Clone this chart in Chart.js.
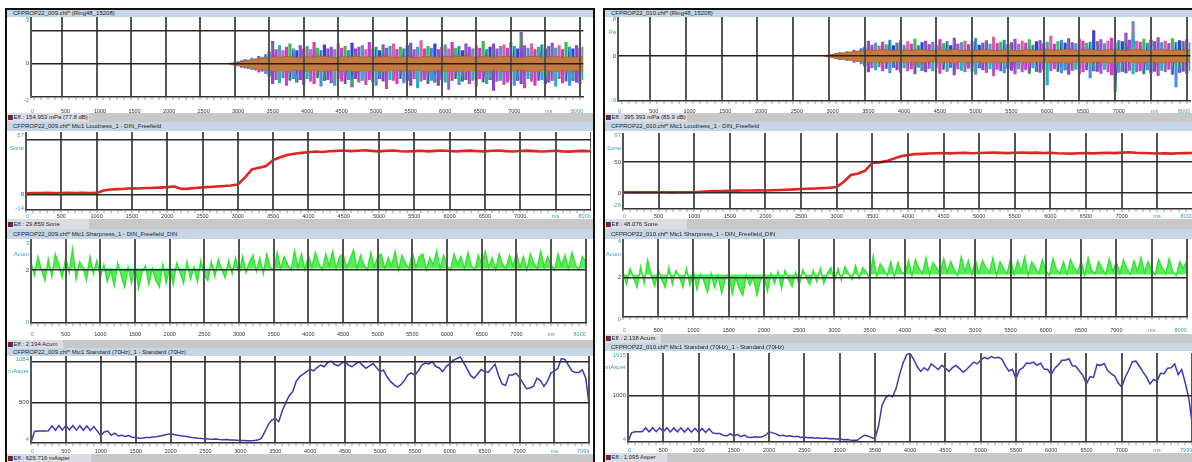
<!DOCTYPE html>
<html><head><meta charset="utf-8">
<script src="https://cdn.jsdelivr.net/npm/chart.js@4.4.1/dist/chart.umd.min.js"></script>
<style>
html,body{margin:0;padding:0;background:#fff;}
body{width:1192px;height:462px;overflow:hidden;position:relative;font-family:"Liberation Sans",Arial,sans-serif;}
.bar{position:absolute;font-size:6px;color:#1e1e1e;white-space:nowrap;overflow:hidden;z-index:5;box-sizing:border-box;}
.title{background:#c7d6e5;}
.eff{background:#c8c8c8;}
.effbox{position:absolute;left:0;top:0;bottom:0;background:#dcdce5;}
.txt{position:absolute;top:0;}
.icon{position:absolute;width:4px;height:5px;background:#8a1b1b;border-right:1px solid #3050b0;}
.border{position:absolute;background:#111;z-index:6;}
canvas{position:absolute;z-index:1;}
</style></head><body>
<script>
// ---------- categories / ticks ----------
const T100 = [0,100,200,300,400,500,600,700,800,900,1000,1100,1200,1300,1400,1500,1600,1700,1800,1900,2000,2100,2200,2300,2400,2500,2600,2700,2800,2900,3000,3100,3200,3300,3400,3500,3600,3700,3800,3900,4000,4100,4200,4300,4400,4500,4600,4700,4800,4900,5000,5100,5200,5300,5400,5500,5600,5700,5800,5900,6000,6100,6200,6300,6400,6500,6600,6700,6800,6900,7000,7100,7200,7300,7400,7500,7600,7700,7800,7900,8000];
const T50 = [0,50,100,150,200,250,300,350,400,450,500,550,600,650,700,750,800,850,900,950,
1000,1050,1100,1150,1200,1250,1300,1350,1400,1450,1500,1550,1600,1650,1700,1750,1800,1850,1900,1950,
2000,2050,2100,2150,2200,2250,2300,2350,2400,2450,2500,2550,2600,2650,2700,2750,2800,2850,2900,2950,
3000,3050,3100,3150,3200,3250,3300,3350,3400,3450,3500,3550,3600,3650,3700,3750,3800,3850,3900,3950,
4000,4050,4100,4150,4200,4250,4300,4350,4400,4450,4500,4550,4600,4650,4700,4750,4800,4850,4900,4950,
5000,5050,5100,5150,5200,5250,5300,5350,5400,5450,5500,5550,5600,5650,5700,5750,5800,5850,5900,5950,
6000,6050,6100,6150,6200,6250,6300,6350,6400,6450,6500,6550,6600,6650,6700,6750,6800,6850,6900,6950,
7000,7050,7100,7150,7200,7250,7300,7350,7400,7450,7500,7550,7600,7650,7700,7750,7800,7850,7900,7950,8000];
const xMajor = [0,500,1000,1500,2000,2500,3000,3500,4000,4500,5000,5500,6000,6500,7000,7500,8000];
const xLabels = ['0','500','1000','1500','2000','2500','3000','3500','4000','4500','5000','5500','6000','6500','7000','ms','8000'];
const xLabelsAsper = ['0','500','1000','1500','2000','2500','3000','3500','4000','4500','5000','5500','6000','6500','7000','ms','7999'];

// ---------- left recording CFPROP22_009 ----------
const p1BandHi = [0.03,0.1,0.17,0.24,0.3,0.36,0.42,0.38,0.44,0.4,0.36,0.43,0.39,0.45,0.41,0.37,0.44,0.4,0.46,0.38,0.42,0.39,0.45,0.41,0.37,0.43,0.4,0.36,0.44,0.42,0.38,0.45,0.4,0.43,0.47,0.39,0.41,0.44,0.38,0.42,0.46,0.4,0.37,0.43,0.45,0.39,0.41,0.44,0.38,0.42,0.4,0.43];
const p1BandLo = [-0.03,-0.11,-0.18,-0.25,-0.31,-0.37,-0.43,-0.4,-0.45,-0.41,-0.38,-0.44,-0.4,-0.46,-0.42,-0.39,-0.45,-0.41,-0.47,-0.4,-0.43,-0.4,-0.46,-0.42,-0.38,-0.44,-0.41,-0.37,-0.45,-0.43,-0.39,-0.46,-0.41,-0.44,-0.48,-0.4,-0.42,-0.45,-0.39,-0.43,-0.47,-0.41,-0.38,-0.44,-0.46,-0.4,-0.42,-0.45,-0.39,-0.43,-0.41,-0.44];
const p1SpikeHi = [0.04,0.06,0.12,0.18,0.26,0.22,0.34,0.3,0.45,0.4,
0.55,0.7,1.35,0.85,1.1,0.8,1.0,1.2,0.9,0.8,
1.1,0.9,1.05,0.85,1.3,0.95,0.8,1.15,0.9,1.0,
0.85,1.2,0.95,1.05,0.8,1.25,0.9,1.0,1.1,0.85,
1.3,0.9,1.0,0.8,1.15,0.95,1.05,1.2,0.85,1.0,
0.9,1.1,1.25,0.85,1.0,1.4,0.9,1.05,0.95,1.2,
0.85,1.0,1.15,0.9,1.3,0.95,1.05,0.8,1.2,1.0,
0.9,1.1,0.95,1.35,0.85,1.0,1.2,0.9,1.05,1.15,
0.95,1.3,1.05,0.9,1.9,1.1,0.95,1.2,0.85,1.0,
1.15,0.9,1.05,1.25,0.95,1.1,0.85,1.3,1.0,0.9,
1.1,0.95,1.0];
const p1SpikeLo = [-0.04,-0.07,-0.13,-0.2,-0.25,-0.3,-0.35,-0.38,-0.5,-0.45,
-0.6,-0.75,-1.2,-0.95,-1.15,-0.85,-1.3,-1.0,-0.9,-1.1,
-0.95,-1.25,-0.9,-1.05,-1.2,-0.85,-1.35,-1.0,-0.95,-1.15,
-1.3,-0.9,-1.05,-1.2,-0.95,-1.4,-0.9,-1.1,-1.0,-1.25,
-0.95,-1.1,-1.3,-0.9,-1.05,-1.5,-0.95,-1.0,-1.2,-0.9,
-1.15,-1.0,-1.3,-0.9,-1.45,-1.05,-0.95,-1.2,-1.0,-1.1,
-1.3,-0.95,-1.1,-1.55,-1.0,-0.9,-1.25,-1.05,-0.95,-1.2,
-1.0,-1.35,-0.9,-1.1,-1.2,-0.95,-1.6,-1.05,-1.0,-1.25,
-1.1,-0.95,-1.3,-1.0,-1.2,-1.45,-0.9,-1.05,-1.3,-1.0,
-0.95,-1.2,-1.1,-1.0,-1.35,-0.9,-1.15,-1.05,-1.3,-1.0,
-1.1,-1.2,-0.95];
const loud1 = [1.2,1.5,1.4,1.6,1.5,1.4,1.6,1.5,1.7,1.5,
1.6,3.8,4.6,5.0,5.3,5.8,5.6,6.0,6.1,6.4,
6.8,7.4,5.2,5.5,6.0,6.6,7.0,7.4,7.8,8.3,
9.2,15.5,23.0,24.5,26.0,31.5,34.0,36.0,37.2,38.0,
38.6,39.2,38.8,39.5,39.8,40.2,39.6,40.0,40.4,39.8,
39.4,39.9,40.1,39.5,39.2,39.6,39.9,39.4,39.8,40.2,
39.7,39.3,39.8,40.0,39.5,39.4,39.9,40.1,39.6,39.3,
39.7,40.0,39.6,39.2,39.5,39.9,39.4,39.1,39.6,39.8,
39.5];
const sharp1 = [2.3,1.8,2.5,2.0,1.6,2.4,1.75,2.6,2.2,1.7,2.45,1.9,2.8,1.65,2.3,2.1,1.6,2.5,1.85,2.35,1.7,
2.2,1.55,2.0,1.4,2.25,1.8,1.35,2.1,1.5,2.2,1.3,1.9,2.15,1.45,2.05,1.6,1.35,2.2,1.5,2.1,
1.45,2.25,1.9,1.5,2.3,1.65,2.1,1.55,2.35,1.8,1.6,2.3,1.75,2.4,2.0,1.7,2.35,1.85,2.45,1.8,
2.5,1.9,2.3,2.55,1.95,2.45,1.85,2.6,2.1,1.95,2.65,2.05,2.5,2.2,2.0,2.7,2.1,2.6,2.0,2.55,
2.1,2.65,2.25,2.0,2.6,2.15,2.7,2.05,2.5,2.6,2.1,2.4,2.75,2.05,2.55,2.2,2.0,2.65,2.1,2.5,
2.6,2.05,2.45,2.15,2.7,2.0,2.55,2.25,2.05,2.65,2.1,2.5,2.6,2.0,2.45,2.2,2.7,2.05,2.55,2.15,
2.0,2.6,2.2,2.5,2.05,2.65,2.15,2.0,2.55,2.25,2.7,2.1,2.45,2.0,2.6,2.2,2.05,2.55,2.15,2.65,
2.1,2.5,2.0,2.6,2.25,2.05,2.7,2.1,2.5,2.2,2.0,2.6,2.15,2.55,2.05,2.65,2.2,2.0,2.5,2.3];
const asper1 = [10,145,150,152,150,155,215,160,218,162,220,165,218,162,215,160,212,158,205,150,95,
140,150,100,125,90,100,85,95,75,70,62,65,70,72,78,80,90,100,110,118,
108,100,92,88,80,72,68,62,58,55,52,50,52,46,44,46,42,40,38,36,
35,33,32,34,40,60,140,230,285,305,265,400,500,585,635,760,820,850,880,910,
890,930,960,940,990,1010,970,950,985,1000,960,940,975,1000,960,920,950,980,930,880,
900,820,760,720,690,720,770,840,865,835,890,960,985,975,1000,945,925,880,945,975,
1020,1040,1060,990,910,830,800,850,905,880,870,920,970,830,730,710,840,840,860,810,
740,670,680,700,800,770,700,760,865,885,920,1040,1030,960,890,870,870,900,800,450];

// ---------- right recording CFPROP22_010 ----------
const p2BandHi = [0.1,0.3,0.5,0.7,0.85,1.0,1.2,1.1,1.3,1.15,1.05,1.25,1.1,1.3,1.2,1.05,1.25,1.15,1.35,1.1,1.2,1.1,1.3,1.2,1.05,1.25,1.15,1.0,1.3,1.2,1.1,1.3,1.15,1.25,1.4,1.1,1.2,1.3,1.1,1.2,1.35,1.15,1.05,1.25,1.3,1.1,1.2,1.3,1.1,1.2,1.15,1.25];
const p2BandLo = [-0.1,-0.3,-0.55,-0.75,-0.9,-1.05,-1.25,-1.15,-1.35,-1.2,-1.1,-1.3,-1.15,-1.35,-1.25,-1.1,-1.3,-1.2,-1.4,-1.15,-1.25,-1.15,-1.35,-1.25,-1.1,-1.3,-1.2,-1.05,-1.35,-1.25,-1.15,-1.35,-1.2,-1.3,-1.45,-1.15,-1.25,-1.35,-1.15,-1.25,-1.4,-1.2,-1.1,-1.3,-1.35,-1.15,-1.25,-1.35,-1.15,-1.25,-1.2,-1.3];
const p2SpikeHi = [0.1,0.2,0.35,0.5,0.7,0.6,0.9,0.8,1.2,1.0,
1.5,1.8,3.0,2.2,2.6,2.0,2.8,2.3,3.2,2.1,
2.6,3.1,2.2,2.9,2.4,3.4,2.1,2.7,3.0,2.3,
2.8,2.2,3.3,2.5,2.9,2.1,3.6,2.4,2.7,3.0,
2.3,2.9,3.5,2.2,2.6,3.1,2.4,3.8,2.5,2.8,
3.2,2.3,2.7,3.4,2.4,3.0,2.6,3.3,2.2,2.9,
3.1,2.5,2.8,4.0,2.4,2.9,3.2,2.6,3.5,2.7,
2.5,3.4,3.0,2.6,2.8,5.1,2.9,3.3,2.5,3.0,
3.6,2.7,3.1,2.9,4.6,3.2,6.9,3.0,2.8,3.4,
2.6,3.2,2.9,3.7,2.7,3.0,2.5,3.5,2.8,3.1,
2.9,3.3,2.7];
const p2SpikeLo = [-0.1,-0.2,-0.4,-0.5,-0.75,-0.65,-0.95,-0.85,-1.3,-1.1,
-1.6,-2.0,-3.2,-2.4,-2.8,-2.2,-3.0,-2.5,-3.4,-2.3,
-2.8,-3.3,-2.4,-3.0,-2.6,-3.6,-2.3,-2.9,-3.2,-2.5,
-3.0,-2.4,-3.5,-2.7,-3.1,-2.3,-3.8,-2.6,-2.9,-3.2,
-2.5,-3.1,-3.7,-2.4,-2.8,-3.3,-2.6,-4.0,-2.7,-3.0,
-3.4,-2.5,-2.9,-3.6,-2.6,-3.2,-2.8,-3.5,-2.4,-3.1,
-3.3,-2.7,-5.8,-3.0,-2.6,-3.1,-3.4,-2.8,-3.7,-2.9,
-2.7,-3.6,-3.2,-2.8,-4.4,-3.0,-3.1,-3.5,-2.7,-3.2,
-3.8,-7.2,-3.3,-3.1,-3.4,-2.9,-3.6,-3.2,-3.0,-3.6,
-2.8,-3.4,-3.1,-3.9,-2.9,-3.2,-2.7,-3.7,-6.2,-3.3,
-3.1,-3.5,-2.9];
const loud2 = [1.0,1.1,0.9,1.0,1.2,1.0,1.1,0.9,1.0,1.1,
1.2,2.0,2.6,2.9,3.2,3.6,3.7,3.9,4.0,4.1,
4.0,4.4,4.8,5.2,5.8,6.3,6.8,7.2,7.8,8.5,
9.6,18.0,29.0,31.5,36.0,48.5,49.5,51.5,55.5,59.5,
61.5,62.8,63.2,63.8,64.2,64.4,64.0,64.6,64.8,64.2,
64.6,65.0,65.2,64.8,64.5,65.0,65.4,64.9,65.2,64.7,
65.1,64.3,63.9,63.7,64.2,64.5,64.1,64.7,65.0,64.5,
65.2,65.8,65.0,64.6,64.2,63.9,64.1,63.7,64.2,64.5,
64.7];
const sharp2 = [2.3,1.65,2.45,2.0,1.5,2.55,1.7,2.9,2.1,1.55,2.4,1.9,1.5,2.5,1.65,2.35,2.05,1.5,2.45,1.6,2.3,
1.4,2.15,1.8,1.25,2.2,1.5,2.1,1.2,1.9,2.2,1.15,2.0,1.45,1.1,2.1,1.6,2.0,1.1,1.85,2.05,
1.3,2.2,1.7,2.3,1.45,2.35,1.9,1.55,2.25,1.6,2.4,2.0,1.65,2.35,1.8,2.45,1.7,2.2,2.5,1.8,
2.45,1.85,2.55,2.2,1.9,2.6,1.95,2.5,2.3,1.9,3.1,2.05,2.7,2.4,2.1,2.8,2.0,2.75,2.3,2.15,
2.85,2.1,2.9,2.45,2.2,3.0,2.15,2.75,2.5,2.2,2.95,2.25,2.8,2.4,2.1,3.05,2.3,2.85,2.15,2.9,
2.2,2.85,2.5,2.25,3.0,2.1,2.8,2.45,2.2,2.95,2.15,2.85,2.3,3.05,2.1,2.8,2.5,2.2,2.9,2.35,
2.1,2.95,2.4,2.2,2.8,2.15,2.9,2.5,2.25,2.85,2.1,3.0,2.35,2.2,2.8,2.45,2.15,2.95,2.3,2.8,
2.2,2.9,2.45,2.15,2.85,2.3,3.0,2.25,2.8,2.4,2.15,2.9,2.5,2.2,2.95,2.3,2.1,2.8,2.45,2.85];
const asper2 = [4,200,222,224,222,305,222,310,225,308,222,310,220,305,222,308,218,300,215,298,212,
295,208,290,200,188,185,150,135,185,130,170,120,150,105,100,115,105,115,150,222,
200,178,140,150,128,140,118,125,100,110,95,100,85,95,80,88,75,80,70,72,
52,60,48,44,41,100,150,135,100,75,330,780,950,1010,975,1150,1450,1700,1880,1905,
1780,1620,1520,1600,1540,1680,1620,1560,1650,1590,1520,1600,1650,1580,1500,1560,1640,1720,1680,1760,
1820,1790,1840,1810,1821,1784,1638,1529,1566,1360,1550,1600,1700,1690,1720,1650,1700,1570,1560,1450,
1590,1660,1760,1760,1790,1640,1630,1530,1430,1250,1410,1390,1670,1650,1690,1540,1470,1420,1270,1180,
1400,1550,1730,1740,1630,1510,1400,1250,1345,1310,1480,1470,1590,1600,1680,1450,1560,1270,950,380];

// ---------- y scale ranges, gridlines and y labels ----------
const yRangeL = [[-2,3],[-14,57],[0,3.2],[4,1084]];
const yRangeR = [[-9,8],[-26,97],[0,4],[4,1915]];
const yGridL = [[0,2],[0,50],[2],[500,1000]];
const yGridR = [[0],[0,50],[2],[1000]];
const sharpBaseL = 2.05, sharpBaseR = 2.15;
const yTextL = [['3','Pa','0','-2'],['57','Sone','0','-14'],['3','Acum','2','0'],['1084','mAsper','500','4']];
const yValL  = [[3,3,0,-2],[57,57,0,-14],[3,3,2,0],[1084,1084,500,4]];
const yTextR = [['8','Pa','0','-9'],['97','Sone','50','0','-26'],['4','Acum','2','0'],['1915','mAsper','1000','4']];
const yValR  = [[8,8,0,-9],[97,97,50,0,-26],[4,4,2,0],[1915,1915,1000,4]];

// ---------- header texts ----------
const titlesL = ['CFPROP22_009.chf* (Ring48_15208)','CFPROP22_009.chf* Mic1 Loudness_1 - DIN_Freefield','CFPROP22_009.chf* Mic1 Sharpness_1 - DIN_Freefield_DIN','CFPROP22_009.chf* Mic1 Standard (70Hz)_1 - Standard (70Hz)'];
const effL = ['Eff.: 154.953 mPa (77.8 dB)','Eff.: 29.859 Sone','Eff.: 2.194 Acum','Eff.: 626.716 mAsper'];
const titlesR = ['CFPROP22_010.chf* (Ring48_15208)','CFPROP22_010.chf* Mic1 Loudness_1 - DIN_Freefield','CFPROP22_010.chf* Mic1 Sharpness_1 - DIN_Freefield_DIN','CFPROP22_010.chf* Mic1 Standard (70Hz)_1 - Standard (70Hz)'];
const effR = ['Eff.: 395.393 mPa (85.9 dB)','Eff.: 48.076 Sone','Eff.: 2.138 Acum','Eff.: 1.095 Asper'];

// ---------- styles / layout ----------
const TEAL = '#3e9ea7', DARK = '#3a3a3a';
const spikeColors = ['#d23ad2','#3c3cd6','#27b3b8','#3cbf48','#8d45c8','#e0609e','#4f8fe0','#9a4fd0'];
const FONT = '"Liberation Sans", Arial, sans-serif';
Chart.defaults.font.family = FONT;

const panels = [
  { x0:5, x1:595, in0:7, in1:593, rightBorder:true,
    titles: titlesL, effs: effL, effBox:[82,82,56,84],
    titleRows:[[10,7],[122,9],[229,10],[348,8]], effRows:[[113,9],[219,10],[340,8],[454,9]],
    subs:[
      {kind:'pa', cL:7, pL:31, pR:591, top:14, bottom:97, cB:113, labelY:111, dy:[6,2.5,0,3]},
      {kind:'loud', cL:7, pL:26, pR:591, top:132, bottom:210, cB:219, labelY:216.5, dy:[3.5,16,0,-2]},
      {kind:'sharp', cL:7, pL:31, pR:591, top:238, bottom:323, cB:340, labelY:334.5, dy:[0.5,11.5,0,-0.5]},
      {kind:'asper', cL:7, pL:31, pR:591, top:355, bottom:443, cB:454, labelY:451, dy:[4,16.5,0,-3.5]}
    ],
    range:yRangeL, grid:yGridL, ytext:yTextL, yval:yValL, sharpBase:sharpBaseL,
    data:{bandHi:p1BandHi, bandLo:p1BandLo, spkHi:p1SpikeHi, spkLo:p1SpikeLo, loud:loud1, sharp:sharp1, asper:asper1}
  },
  { x0:603, x1:1192, in0:605, in1:1192, rightBorder:false,
    titles: titlesR, effs: effR, effBox:[82,82,56,62],
    titleRows:[[10,7],[122,9],[229,10],[343,8]], effRows:[[113,9],[219,10],[334,9],[453,9]],
    subs:[
      {kind:'pa', cL:605, pL:618, pR:1194, top:16, bottom:101, cB:113, labelY:111, dy:[3,16,0,-1]},
      {kind:'loud', cL:605, pL:623, pR:1194, top:133, bottom:209, cB:219, labelY:216.5, dy:[2.5,15,0,0,-3.5]},
      {kind:'sharp', cL:605, pL:623, pR:1194, top:238, bottom:317, cB:334, labelY:330.5, dy:[3,16,0,2]},
      {kind:'asper', cL:605, pL:628, pR:1194, top:353, bottom:442, cB:453, labelY:450, dy:[2.5,14.5,0,-2.5]}
    ],
    range:yRangeR, grid:yGridR, ytext:yTextR, yval:yValR, sharpBase:sharpBaseR,
    data:{bandHi:p2BandHi, bandLo:p2BandLo, spkHi:p2SpikeHi, spkLo:p2SpikeLo, loud:loud2, sharp:sharp2, asper:asper2}
  }
];

function addDiv(cls, x, y, w, h) {
  const d = document.createElement('div');
  d.className = cls;
  d.style.left = x + 'px'; d.style.top = y + 'px';
  d.style.width = w + 'px'; d.style.height = h + 'px';
  document.body.appendChild(d);
  return d;
}

function datasetsFor(kind, D, P) {
  if (kind === 'pa') {
    const tb = T100.slice(29), ts = T50.slice(58);
    return [
      {type:'bar', data: ts.map((t,i)=>({x:t, y:[D.spkLo[i], D.spkHi[i]]})),
       backgroundColor: c => spikeColors[(c.dataIndex * 3) % spikeColors.length], barThickness:2.5, grouped:false, order:3},
      {type:'line', data: ts.map((t,i)=>({x:t, y: (i % 2) ? D.spkLo[i] : D.spkHi[i]})),
       borderWidth:1, pointRadius:0, fill:false, order:2, borderColor:'#8d45c8',
       segment:{ borderColor: c => spikeColors[c.p0DataIndex % spikeColors.length] }},
      {type:'line', data: tb.map((t,i)=>({x:t, y:D.bandHi[i]})), borderColor:'#a5602a', borderWidth:0.8,
       backgroundColor:'#c27a3e', fill:'+1', pointRadius:0, order:1},
      {type:'line', data: tb.map((t,i)=>({x:t, y:D.bandLo[i]})), borderColor:'#a5602a', borderWidth:0.8,
       fill:false, pointRadius:0, order:1}
    ];
  }
  if (kind === 'loud') return [{data: T100.map((t,i)=>({x:t, y:D.loud[i]})), borderColor:'#e3231d', borderWidth:2.6, pointRadius:0, fill:false}];
  if (kind === 'sharp') return [{data: T50.map((t,i)=>({x:t, y:D.sharp[i]})), borderColor:'#2fe52f', borderWidth:1.4, pointRadius:0,
      fill:{ value: P.sharpBase }, backgroundColor:'rgba(60,232,60,0.85)'}];
  return [{data: T50.map((t,i)=>({x:t, y:D.asper[i]})), borderColor:'#3a3ab2', borderWidth:1.5, pointRadius:0, fill:false}];
}

function yLabelPlugin(texts, vals, dys) {
  return { id:'ylab', afterDraw(chart) {
    const ctx = chart.ctx, ys = chart.scales.y, L = chart.chartArea.left;
    ctx.save();
    ctx.font = '6px ' + FONT; ctx.textAlign = 'right'; ctx.textBaseline = 'middle';
    const n = texts.length;
    texts.forEach((t,i) => {
      const isEnd = (i === 0 || i === 1 || i === n-1);
      ctx.fillStyle = isEnd ? TEAL : DARK;
      ctx.fillText(t, L - 2, ys.getPixelForValue(vals[i]) + (dys[i] || 0));
    });
    ctx.restore();
  }};
}

panels.forEach(P => {
  addDiv('border', P.x0, 8, P.x1 - P.x0, 2);
  addDiv('border', P.x0, 8, 2, 454);
  if (P.rightBorder) addDiv('border', P.x1 - 2, 8, 2, 454);
  P.titleRows.forEach((r, k) => {
    const d = addDiv('bar title', P.in0, r[0], P.in1 - P.in0, r[1]);
    const s = document.createElement('span'); s.className = 'txt';
    s.style.left = '6px'; s.style.lineHeight = r[1] + 'px'; s.textContent = P.titles[k];
    d.appendChild(s);
  });
  P.effRows.forEach((r, k) => {
    const d = addDiv('bar eff', P.in0, r[0], P.in1 - P.in0, r[1]);
    const b = document.createElement('div'); b.className = 'effbox'; b.style.width = P.effBox[k] + 'px'; d.appendChild(b);
    const ic = document.createElement('span'); ic.className = 'icon'; ic.style.left = '1px'; ic.style.top = ((r[1]-5)/2) + 'px'; d.appendChild(ic);
    const s = document.createElement('span'); s.className = 'txt';
    s.style.left = '6.5px'; s.style.lineHeight = r[1] + 'px'; s.textContent = P.effs[k];
    d.appendChild(s);
  });
  P.subs.forEach((sp, k) => {
    const W = sp.pR - sp.cL, H = sp.cB - sp.top;
    const xAxisH = H - (sp.bottom - sp.top);
    const yW = sp.pL - sp.cL;
    const cv = document.createElement('canvas');
    cv.width = W; cv.height = H;
    cv.style.left = sp.cL + 'px'; cv.style.top = sp.top + 'px';
    cv.style.width = W + 'px'; cv.style.height = H + 'px';
    document.body.appendChild(cv);
    const tickLen = 3;
    const pad = Math.max(0, sp.labelY - sp.bottom - tickLen - 3.3);
    const labels = sp.kind === 'asper' ? xLabelsAsper : xLabels;
    const grid = P.grid[k];
    new Chart(cv.getContext('2d'), {
      type: 'line',
      data: { datasets: datasetsFor(sp.kind, P.data, P) },
      options: {
        responsive:false, maintainAspectRatio:false, animation:false, devicePixelRatio:1, events:[],
        layout:{ padding:0, autoPadding:false },
        plugins:{ legend:{display:false}, tooltip:{enabled:false} },
        elements:{ point:{radius:0}, line:{tension:0} },
        scales:{
          x:{ type:'linear', min:0, max:8000, offset:false,
            afterBuildTicks: s => { s.ticks = T100.map(v => ({value:v})); },
            afterFit: s => { s.height = xAxisH; },
            ticks:{ autoSkip:false, maxRotation:0, minRotation:0, align:'inner', padding:pad,
              font:{ size:5.5 },
              color: c => (c.tick && (c.tick.value === 0 || c.tick.value >= 7500)) ? TEAL : '#333',
              callback: v => { const i = xMajor.indexOf(v); return i < 0 ? '' : labels[i]; } },
            grid:{ z:1, drawTicks:true, tickLength:tickLen, tickWidth:1, tickColor:'#9a9a9a', lineWidth:2,
              color: c => (c.tick && c.tick.value % 500 === 0) ? '#555555' : 'rgba(0,0,0,0)' },
            border:{ display:true, color:'#333', width:1.5, z:1 } },
          y:{ type:'linear', min:P.range[k][0], max:P.range[k][1],
            afterBuildTicks: s => { s.ticks = grid.map(v => ({value:v})); },
            afterFit: s => { s.width = yW; },
            ticks:{ display:false },
            grid:{ z:1, drawTicks:false, lineWidth:1.5,
              color: c => (sp.kind === 'pa' && c.tick && c.tick.value === 0) ? '#2a1c10' : '#2a2a2a' },
            border:{ display:true, color:'#555', width:2, z:1 } }
        }
      },
      plugins:[ yLabelPlugin(P.ytext[k], P.yval[k], sp.dy) ]
    });
  });
});
</script>
</body></html>
